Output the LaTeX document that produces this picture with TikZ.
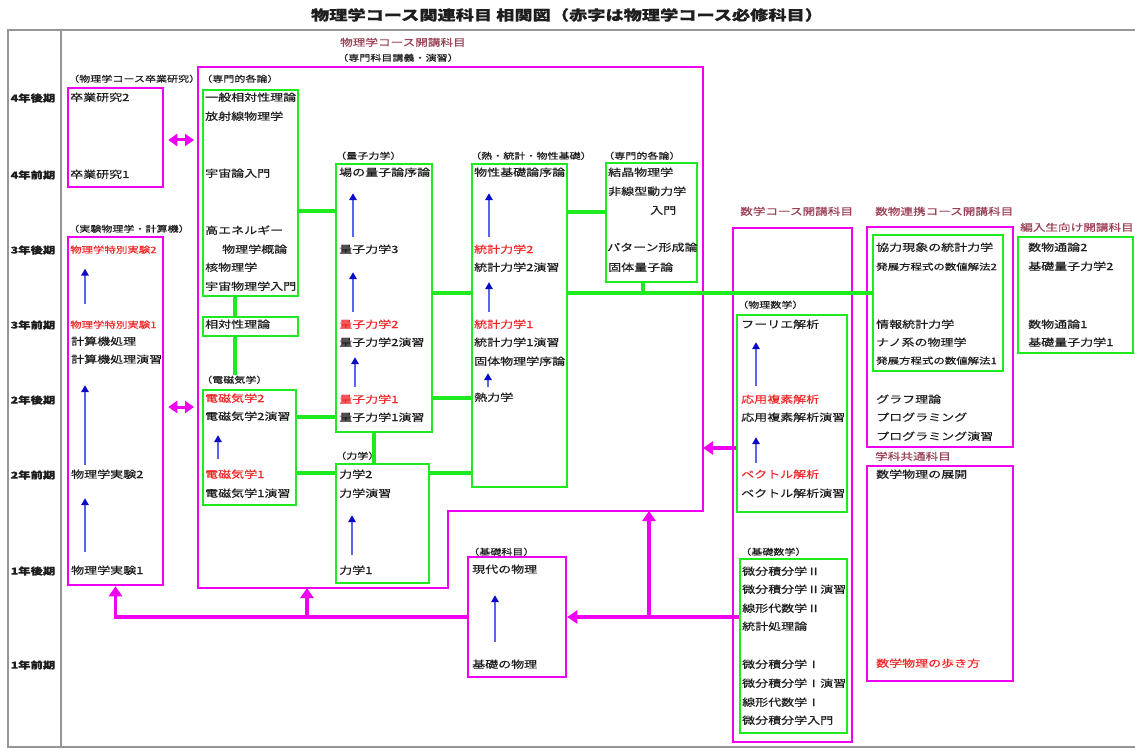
\documentclass[tikz,border=0pt]{standalone}
\usepackage{fontspec}
\setmainfont{Noto Sans CJK JP}[FakeStretch=1.3,FakeBold=0.4]
\usetikzlibrary{arrows.meta,fit}
\definecolor{mag}{RGB}{240,0,240}
\definecolor{grn}{RGB}{30,235,30}
\definecolor{bshaft}{RGB}{90,100,240}
\definecolor{bhead}{RGB}{10,10,200}
\definecolor{rtext}{RGB}{240,40,40}
\definecolor{dred}{RGB}{155,65,85}
\definecolor{framegray}{RGB}{150,150,150}
\definecolor{ink}{RGB}{30,30,30}
\tikzset{
 tx/.style={anchor=west, inner sep=0pt, text height=8pt, text depth=2pt, font=\fontsize{10}{12}\selectfont, text=ink},
 rtx/.style={tx, text=rtext},
 sm/.style={tx, font=\fontsize{8.8}{10}\selectfont},
 lab/.style={tx, font=\fontsize{8.5}{10}\selectfont},
 crs/.style={tx, font=\fontsize{9.7}{11}\selectfont, text=dred},
 rowlab/.style={anchor=center, inner sep=0pt, font=\bfseries\fontsize{9.5}{11}\selectfont, text=ink},
 gbox/.style={draw=grn, line width=2.5pt, inner sep=0pt},
 mbox/.style={draw=mag, line width=2.5pt, inner sep=0pt},
 gconn/.style={draw=grn, line width=3.5pt},
 mline/.style={draw=mag, line width=3.5pt},
 marrow/.style={mline, -{Triangle[length=10pt,width=13pt]}},
 mdarrow/.style={draw=mag, line width=3pt, {Triangle[length=9pt,width=12pt]}-{Triangle[length=9pt,width=12pt]}, shorten <=4pt, shorten >=4pt},
 barrow/.style={draw=bshaft, line width=2.2pt, -{Triangle[length=7pt,width=7.5pt,color=bhead]}},
}
\newcommand\uparr[5]{\path ([xshift=#3pt]#1.north west) coordinate (ua); \draw[barrow, shorten <=#4pt, shorten >=#5pt] (ua) -- (ua |- #2.south);}
\begin{document}
\begin{tikzpicture}[x=1pt,y=-1pt]
\useasboundingbox (0,0) rectangle (1135,749);
\fill[white] (0,0) rectangle (1135,749);

% title
\node[anchor=center, inner sep=0pt, font=\bfseries\fontsize{14}{16}\selectfont, text=ink] (title) at (567,15) {物理学コース関連科目\ 相関図（赤字は物理学コース必修科目）};

% frame
\draw[draw=framegray, line width=1.8pt] (1135,30) -- (8,30) -- (8,747) -- (1135,747);
\draw[draw=framegray, line width=1.5pt] (61,30) -- (61,747);

% row labels
\node[rowlab] (r1) at (33,98) {4年後期};
\node[rowlab] (r2) at (33,175) {4年前期};
\node[rowlab] (r3) at (33,250) {3年後期};
\node[rowlab] (r4) at (33,325) {3年前期};
\node[rowlab] (r5) at (33,400) {2年後期};
\node[rowlab] (r6) at (33,475) {2年前期};
\node[rowlab] (r7) at (33,571) {1年後期};
\node[rowlab] (r8) at (33,665) {1年前期};

% boxes
\node[mbox, fit={(68,88)(163,187)}] (sotsu) {};
\node[mbox, fit={(68,237)(163,585)}] (jikken) {};
\draw[draw=mag, line width=2.5pt] (198,67) -- (703,67) -- (703,511) -- (448,511) -- (448,588) -- (198,588) -- cycle;
\node[gbox, fit={(203,90)(298,296)}] (senL) {};
\node[gbox, fit={(203,317)(298,336)}] (sotai) {};
\node[gbox, fit={(203,390)(296,505)}] (denji) {};
\node[gbox, fit={(336,164)(432,432)}] (ryoshi) {};
\node[gbox, fit={(336,464)(429,583)}] (rikigaku) {};
\node[gbox, fit={(472,164)(567,487)}] (netsu) {};
\node[gbox, fit={(606,163)(697,282)}] (senR) {};
\node[mbox, fit={(733,228)(852,742)}] (sugaku) {};
\node[gbox, fit={(737,315)(847,512)}] (butsusu) {};
\node[gbox, fit={(740,559)(847,733)}] (kisoM) {};
\node[mbox, fit={(468,557)(566,677)}] (kiso) {};
\node[mbox, fit={(867,227)(1013,447)}] (renkei) {};
\node[gbox, fit={(873,235)(1003,371)}] (renkeiG) {};
\node[mbox, fit={(867,466)(1013,681)}] (kyotsu) {};
\node[gbox, fit={(1018,237)(1133,353)}] (hennyu) {};

% course labels
\node[crs] (c-phys) at (340,43) {物理学コース開講科目};
\node[lab] (c-physsub) at (337,58) {（専門科目講義・演習）};
\node[crs] (c-math) at (740,212) {数学コース開講科目};
\node[crs] (c-renkei) at (875,212) {数物連携コース開講科目};
\node[crs] (c-kyotsu) at (875,457) {学科共通科目};
\node[crs] (c-hennyu) at (1020,228) {編入生向け開講科目};

% group labels
\node[lab] (l-sotsu) at (68,79) {（物理学コース卒業研究）};
\node[lab] (l-jikken) at (68,229) {（実験物理学・計算機）};
\node[lab] (l-senL) at (201,79) {（専門的各論）};
\node[lab] (denjiL) at (201,380) {（電磁気学）};
\node[lab] (l-ryoshi) at (335,156) {（量子力学）};
\node[lab] (l-riki) at (335,456) {（力学）};
\node[lab] (l-netsu) at (470,156) {（熱・統計・物性基礎）};
\node[lab] (l-senR) at (603,156) {（専門的各論）};
\node[lab] (l-butsusu) at (737,305) {（物理数学）};
\node[lab] (l-kisoM) at (740,552) {（基礎数学）};
\node[lab] (l-kiso) at (468,552) {（基礎科目）};

% sotsu
\node[tx] (t-sk2) at (70,98) {卒業研究2};
\node[tx] (t-sk1) at (70,175) {卒業研究1};
% jikken
\node[sm, text=rtext] (t-tok2) at (70,250) {物理学特別実験2};
\node[sm, text=rtext] (t-tok1) at (70,325) {物理学特別実験1};
\node[tx] (t-kei) at (71,342) {計算機処理};
\node[tx] (t-kei2) at (71,360) {計算機処理演習};
\node[tx] (t-jk2) at (71,475) {物理学実験2};
\node[tx] (t-jk1) at (71,571) {物理学実験1};
% senL
\node[tx] (t-ippan) at (205,98) {一般相対性理論};
\node[tx] (t-hosha) at (205,117) {放射線物理学};
\node[tx] (t-uchu) at (205,174) {宇宙論入門};
\node[tx] (t-koe) at (205,231) {高エネルギー};
\node[tx] (t-koe2) at (222,250) {物理学概論};
\node[tx] (t-kaku) at (205,268) {核物理学};
\node[tx] (t-uchub) at (205,287) {宇宙物理学入門};
\node[tx] (t-sotai) at (205,325) {相対性理論};
% denji
\node[rtx] (t-em2) at (205,399) {電磁気学2};
\node[tx] (t-em2e) at (205,417) {電磁気学2演習};
\node[rtx] (t-em1) at (205,475) {電磁気学1};
\node[tx] (t-em1e) at (205,494) {電磁気学1演習};
% ryoshi
\node[tx] (t-ba) at (339,173) {場の量子論序論};
\node[tx] (t-q3) at (339,250) {量子力学3};
\node[rtx] (t-q2) at (339,325) {量子力学2};
\node[tx] (t-q2e) at (339,343) {量子力学2演習};
\node[rtx] (t-q1) at (339,400) {量子力学1};
\node[tx] (t-q1e) at (339,418) {量子力学1演習};
% rikigaku
\node[tx] (t-rk2) at (339,475) {力学2};
\node[tx] (t-rke) at (339,494) {力学演習};
\node[tx] (t-rk1) at (339,571) {力学1};
% netsu
\node[tx] (t-bk) at (474,173) {物性基礎論序論};
\node[rtx] (t-st2) at (474,250) {統計力学2};
\node[tx] (t-st2e) at (474,268) {統計力学2演習};
\node[rtx] (t-st1) at (474,325) {統計力学1};
\node[tx] (t-st1e) at (474,343) {統計力学1演習};
\node[tx] (t-kt) at (474,362) {固体物理学序論};
\node[tx] (t-nr) at (474,398) {熱力学};
% senR
\node[tx] (t-kessho) at (608,173) {結晶物理学};
\node[tx] (t-hisen) at (608,192) {非線型動力学};
\node[tx] (t-hisen2) at (650,211) {入門};
\node[tx] (t-pat) at (607,248) {パターン形成論};
\node[tx] (t-kotai) at (608,268) {固体量子論};
% butsusu
\node[tx] (t-fu) at (741,325) {フーリエ解析};
\node[rtx] (t-ofk) at (741,400) {応用複素解析};
\node[tx] (t-ofke) at (741,418) {応用複素解析演習};
\node[rtx] (t-vec) at (741,475) {ベクトル解析};
\node[tx] (t-vece) at (741,494) {ベクトル解析演習};
% kisoM
\node[tx] (t-b1) at (742,572) {微分積分学Ⅱ};
\node[tx] (t-b2) at (742,590) {微分積分学Ⅱ演習};
\node[tx] (t-b3) at (742,609) {線形代数学Ⅱ};
\node[tx] (t-b4) at (742,627) {統計処理論};
\node[tx] (t-b5) at (742,665) {微分積分学Ⅰ};
\node[tx] (t-b6) at (742,684) {微分積分学Ⅰ演習};
\node[tx] (t-b7) at (742,703) {線形代数学Ⅰ};
\node[tx] (t-b8) at (742,721) {微分積分学入門};
% kiso
\node[tx] (t-gen) at (472,570) {現代の物理};
\node[tx] (t-gen0) at (472,665) {基礎の物理};
% renkei
\node[tx] (t-kyo) at (876,248) {協力現象の統計力学};
\node[sm] (t-hat2) at (876,267) {発展方程式の数値解法2};
\node[tx] (t-joho) at (876,325) {情報統計力学};
\node[tx] (t-nano) at (876,343) {ナノ系の物理学};
\node[sm] (t-hat1) at (876,361) {発展方程式の数値解法1};
\node[tx] (t-graph) at (876,400) {グラフ理論};
\node[tx] (t-prog) at (876,418) {プログラミング};
\node[tx] (t-proge) at (876,437) {プログラミング演習};
% kyotsu
\node[tx] (t-tenkai) at (876,475) {数学物理の展開};
\node[rtx] (t-aruki) at (876,664) {数学物理の歩き方};
% hennyu
\node[tx] (t-h2) at (1028,248) {数物通論2};
\node[tx] (t-hq2) at (1028,267) {基礎量子力学2};
\node[tx] (t-h1) at (1028,325) {数物通論1};
\node[tx] (t-hq1) at (1028,343) {基礎量子力学1};

% coordinates on the physics-course outline
\coordinate (mW1) at (198,140);
\coordinate (mW2) at (198,407);
\coordinate (mE) at (703,448);
\coordinate (mS1) at (307,588);
\coordinate (mS2) at (649,511);
\coordinate (jn) at (649,617);
\coordinate (tj) at (643,293);

% green connectors
\draw[gconn] (senL.east |- 0,211) -- (ryoshi.west |- 0,211);
\draw[gconn] (senL.south -| 235,0) -- (sotai.north -| 235,0);
\draw[gconn] (sotai.south -| 235,0) -- (denjiL.north -| 235,0);
\draw[gconn] (denji.east |- 0,417) -- (ryoshi.west |- 0,417);
\draw[gconn] (denji.east |- 0,473) -- (rikigaku.west |- 0,473);
\draw[gconn] (ryoshi.south -| 374,0) -- (rikigaku.north -| 374,0);
\draw[gconn] (ryoshi.east |- 0,293) -- (netsu.west |- 0,293);
\draw[gconn] (ryoshi.east |- 0,398) -- (netsu.west |- 0,398);
\draw[gconn] (rikigaku.east |- 0,473) -- (netsu.west |- 0,473);
\draw[gconn] (netsu.east |- 0,212) -- (senR.west |- 0,212);
\draw[gconn] (netsu.east |- tj) -- (renkeiG.west |- tj);
\draw[gconn] (senR.south -| tj) -- (tj);

% magenta connectors
\draw[mdarrow] (sotsu.east |- mW1) -- (mW1);
\draw[mdarrow] (jikken.east |- mW2) -- (mW2);
\draw[marrow] (butsusu.west |- mE) -- (mE);
\draw[marrow] (kisoM.west |- jn) -- (kiso.east |- jn);
\draw[marrow] (jn) -- (mS2);
\draw[marrow] (kiso.west |- jn) -| (jikken.south);
\draw[marrow] (mS1 |- jn) -- (mS1);

% blue arrows
\uparr{t-tok1}{t-tok2}{15}{15.5}{13.5}
\uparr{t-jk2}{t-kei2}{14}{5}{20}
\uparr{t-jk1}{t-jk2}{14}{14}{18}
\uparr{t-em1}{t-em2e}{13}{11}{13}
\uparr{t-q3}{t-ba}{14}{8}{15}
\uparr{t-q2}{t-q3}{14}{8}{17}
\uparr{t-q1}{t-q2e}{16}{8}{9}
\uparr{t-rk1}{t-rke}{13}{11}{16}
\uparr{t-st2}{t-bk}{15}{8}{15}
\uparr{t-st1}{t-st2e}{15}{8}{9}
\uparr{t-nr}{t-kt}{14}{6}{6}
\uparr{t-ofk}{t-fu}{15}{9}{12}
\uparr{t-vec}{t-ofke}{15}{7}{14}
\uparr{t-gen0}{t-gen}{23}{18}{20}
\end{tikzpicture}
\end{document}
